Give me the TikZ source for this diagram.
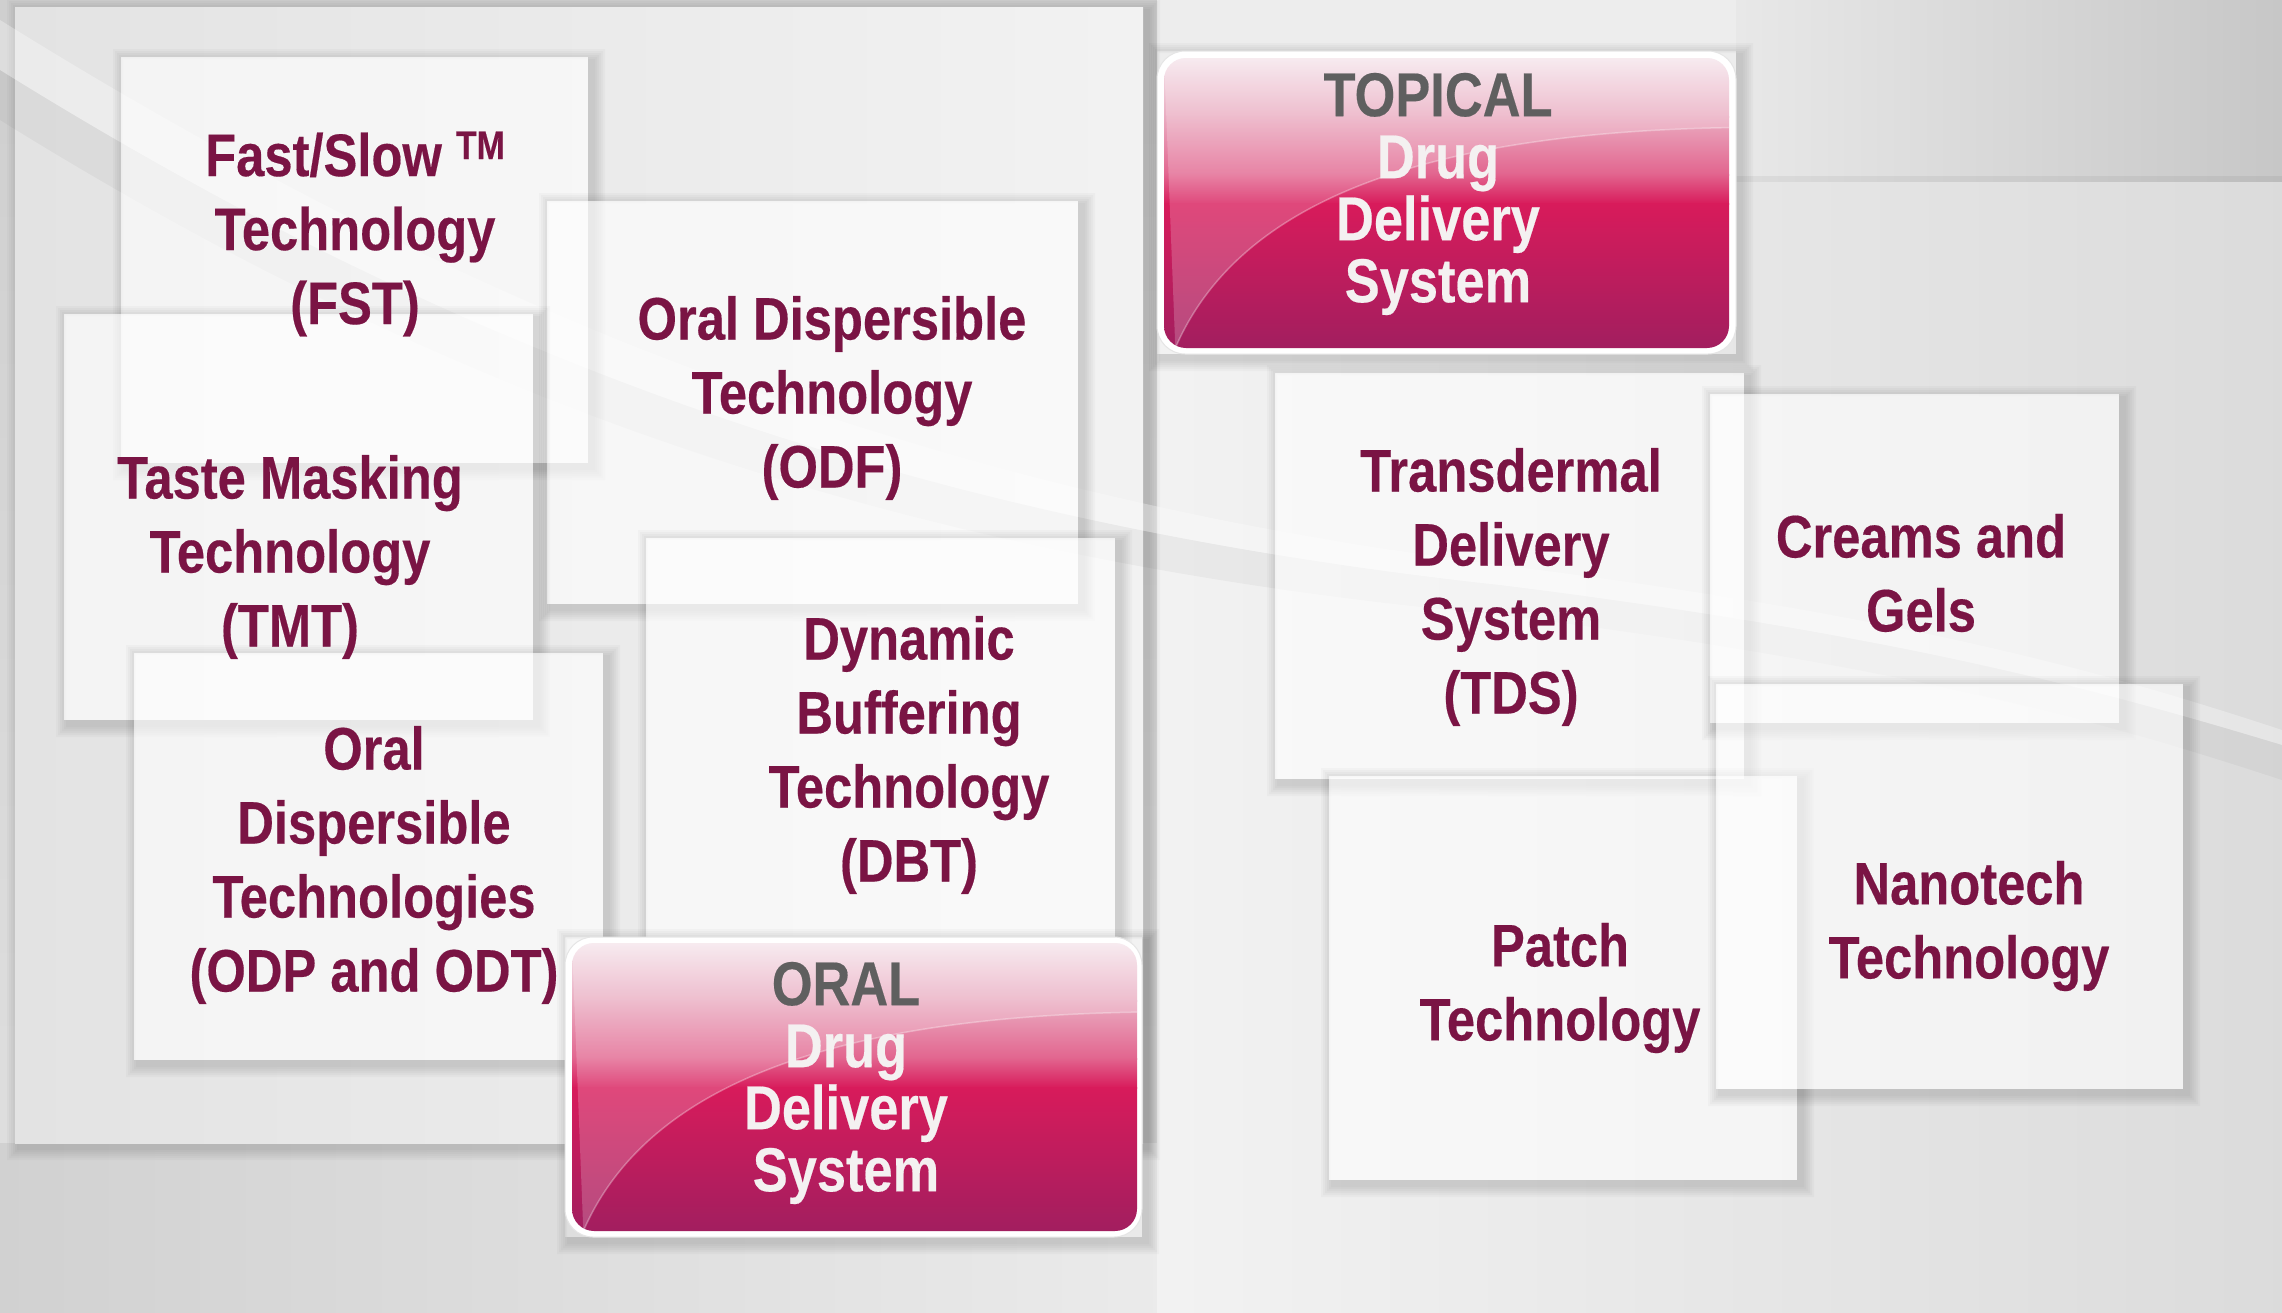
\documentclass[tikz,border=0pt]{standalone}
\usepackage{fontspec}
\newfontfamily\cond{Liberation Sans}[FakeStretch=0.845, BoldFeatures={FakeBold=0.3}]
\definecolor{maroon}{HTML}{7A1444}
\definecolor{titlegray}{HTML}{5F5F5F}
\definecolor{titlewhite}{HTML}{F4F1F1}
\definecolor{pkA}{HTML}{F5E6EC}
\definecolor{pkB}{HTML}{EAACC1}
\definecolor{pkC}{HTML}{E2648E}
\definecolor{pkD}{HTML}{D81B5B}
\definecolor{pkE}{HTML}{A21E5F}
\tikzset{
  cardbox/.style={fill=white, fill opacity=0.6, draw=none, inner sep=0pt},
  cardtext/.style={font=\cond\bfseries\fontsize{60}{74}\selectfont, text=maroon, align=center, inner sep=0pt},
  titletext/.style={font=\cond\bfseries\fontsize{62}{62}\selectfont, text=titlewhite, align=center, inner sep=0pt},
  whiteframe/.style={fill=white, draw=black!10, line width=1pt, rounded corners=28pt, inner sep=0pt}
}
\newcommand\softshadow[4]{%
  \foreach \k in {1,...,6}{%
    \fill[black, opacity=0.025, even odd rule] ({#1+4-2*\k},{#2+4-2*\k}) rectangle ({#3+5+2*\k},{#4+5+2*\k}) (#1,#2) rectangle (#3,#4);
  }}
\newcommand\cardat[5]{%
  \softshadow{#2}{#3}{#4}{#5}%
  \pgfmathsetmacro\cw{#4-#2}\pgfmathsetmacro\ch{#5-#3}%
  \node[cardbox, minimum width=\cw pt, minimum height=\ch pt] (#1) at ({(#2+#4)/2},{(#3+#5)/2}) {};}
\newcommand\pinkfill[4]{%
  \begin{scope}
    \clip[rounded corners=22pt] (#1,#2) rectangle (#3,#4);
    \pgfmathsetmacro\hh{#4-#2}\pgfmathsetmacro\ww{#3-#1}
    \shade[top color=pkA, bottom color=pkB] (#1,#2) rectangle (#3,{#2+0.2*\hh+1});
    \shade[top color=pkB, bottom color=pkC] (#1,{#2+0.2*\hh}) rectangle (#3,{#2+0.4*\hh+1});
    \shade[top color=pkC, bottom color=pkD] (#1,{#2+0.4*\hh}) rectangle (#3,{#2+0.5*\hh+1});
    \shade[top color=pkD, bottom color=pkE] (#1,{#2+0.5*\hh}) rectangle (#3,#4);
    \fill[white, opacity=0.2] ({#1+0.02*\ww},#4) .. controls ({#1+0.12*\ww},{#2+0.55*\hh}) and ({#1+0.4*\ww},{#2+0.26*\hh}) .. (#3,{#2+0.24*\hh}) -- (#3,#2) -- (#1,#2) -- cycle;
    \draw[white, opacity=0.3, line width=1.5pt] ({#1+0.02*\ww},#4) .. controls ({#1+0.12*\ww},{#2+0.55*\hh}) and ({#1+0.4*\ww},{#2+0.26*\hh}) .. (#3,{#2+0.24*\hh});
  \end{scope}}
\begin{document}
\begin{tikzpicture}[x=1pt,y=-1pt]
\useasboundingbox (0,0) rectangle (2282,1312);
% background
\shade[top color=black!19, bottom color=black!12] (0,0) rectangle (2282,1312);
\shade[left color=black!18, right color=black!8] (0,1143) rectangle (1157,1312);
\fill[black!7] (1157,0) rectangle (1736,182);
\shade[left color=black!9, right color=black!22] (1736,0) rectangle (2282,182);
\fill[black, opacity=0.05] (1736,176) rectangle (2282,184);
\shade[left color=black!5, middle color=black!4, right color=black!14] (1157,182) rectangle (2282,1312);
% left panel
\softshadow{15}{7}{1143}{1143}
\shade[left color=black!11, right color=black!5] (15,7) rectangle (1143,1143);
% swoosh
\fill[white, opacity=0.3] (0,20) .. controls (450,300) and (900,490) .. (1500,565) .. controls (1900,615) and (2100,670) .. (2282,730) -- (2282,745) .. controls (2100,690) and (1900,635) .. (1500,585) .. controls (900,520) and (450,350) .. (0,70) -- cycle;
\fill[black, opacity=0.035] (0,70) .. controls (450,350) and (900,520) .. (1500,585) .. controls (1900,635) and (2100,690) .. (2282,745) -- (2282,780) .. controls (2100,720) and (1900,665) .. (1500,615) .. controls (900,560) and (450,400) .. (0,120) -- cycle;
% left cards
\cardat{fstcard}{121}{57}{588}{463}
\cardat{odfcard}{547}{201}{1078}{604}
\cardat{tmtcard}{64}{314}{533}{720}
\cardat{odpcard}{134}{653}{603}{1060}
\cardat{dbtcard}{646}{538}{1115}{943}
% ORAL box
\softshadow{565}{937}{1142}{1237}
\node[whiteframe, minimum width=577pt, minimum height=300pt] (oralframe) at (853.5,1087) {};
\pinkfill{572}{943}{1137}{1231}
% right cards
\cardat{tdscard}{1275}{373}{1744}{779}
\cardat{creamcard}{1710}{394}{2119}{723}
\cardat{patchcard}{1329}{776}{1797}{1180}
\cardat{nanocard}{1716}{684}{2183}{1089}
% TOPICAL box
\softshadow{1157}{51}{1736}{354}
\node[whiteframe, minimum width=579pt, minimum height=303pt] (topframe) at (1446.5,202.5) {};
\pinkfill{1164}{58}{1729}{348}
% texts
\node[cardtext] (fst) at (355,234) {Fast/Slow {\fontsize{40}{40}\selectfont\raisebox{17pt}{TM}}\\Technology\\(FST)};
\node[cardtext] (odf) at (832,398) {Oral Dispersible\\Technology\\(ODF)};
\node[cardtext] (tmt) at (290,557) {Taste Masking\\Technology\\(TMT)};
\node[cardtext] (odp) at (374,865) {Oral\\Dispersible\\Technologies\\(ODP and ODT)};
\node[cardtext] (dbt) at (909,755) {Dynamic\\Buffering\\Technology\\(DBT)};
\node[titletext] (oral) at (846,1083) {\textcolor{titlegray}{ORAL}\\Drug\\Delivery\\System};
\node[titletext] (topical) at (1438,194) {\textcolor{titlegray}{TOPICAL}\\Drug\\Delivery\\System};
\node[cardtext] (tds) at (1511,587) {Transdermal\\Delivery\\System\\(TDS)};
\node[cardtext] (creams) at (1921,573) {Creams and\\Gels};
\node[cardtext] (nano) at (1969,926) {Nanotech\\Technology};
\node[cardtext] (patch) at (1560,988) {Patch\\Technology};
\end{tikzpicture}
\end{document}
